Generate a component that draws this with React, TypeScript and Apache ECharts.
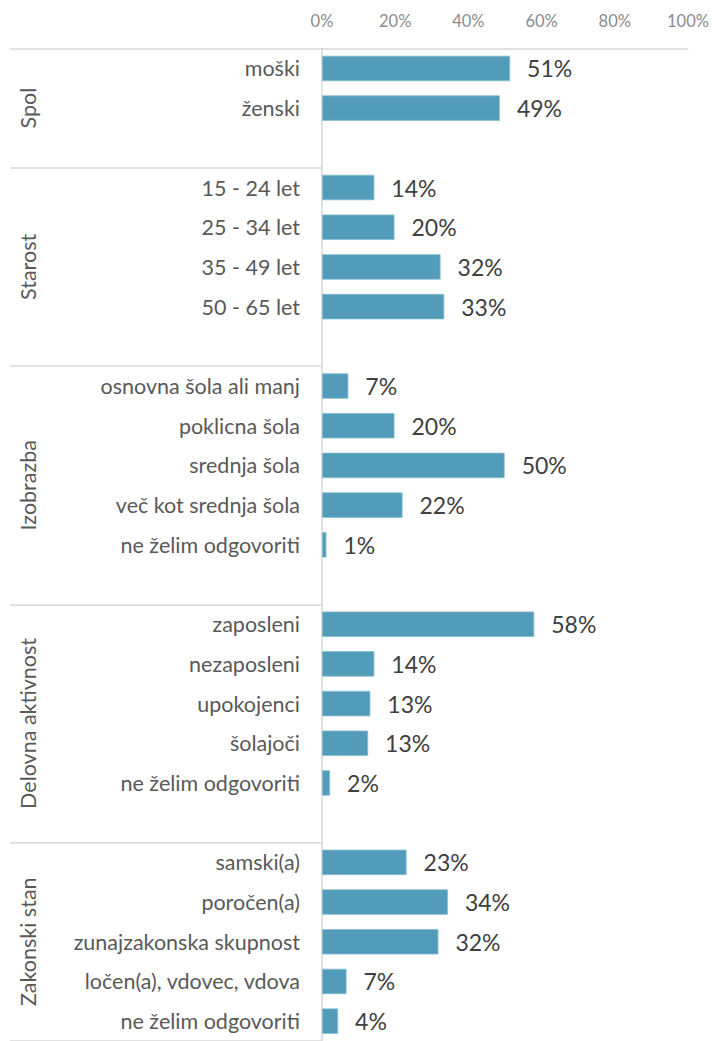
import React, { useEffect, useRef } from "react";
import * as echarts from "echarts";

const groupNames = ["Spol", "Starost", "Izobrazba", "Delovna aktivnost", "Zakonski stan"];

const spolCategories = ["moški", "ženski"];
const spolValues = [51.4, 48.6];

const starostCategories = ["15 - 24 let", "25 - 34 let", "35 - 49 let", "50 - 65 let"];
const starostValues = [14.3, 19.8, 32.4, 33.4];

const izobrazbaCategories = [
  "osnovna šola ali manj",
  "poklicna šola",
  "srednja šola",
  "več kot srednja šola",
  "ne želim odgovoriti",
];
const izobrazbaValues = [7.2, 19.8, 49.9, 22.0, 1.2];

const delovnaCategories = ["zaposleni", "nezaposleni", "upokojenci", "šolajoči", "ne želim odgovoriti"];
const delovnaValues = [58.0, 14.3, 13.2, 12.6, 2.2];

const zakonskiCategories = [
  "samski(a)",
  "poročen(a)",
  "zunajzakonska skupnost",
  "ločen(a), vdovec, vdova",
  "ne želim odgovoriti",
];
const zakonskiValues = [23.1, 34.4, 31.8, 6.7, 4.4];

const groupCategories = [spolCategories, starostCategories, izobrazbaCategories, delovnaCategories, zakonskiCategories];
const groupValues = [spolValues, starostValues, izobrazbaValues, delovnaValues, zakonskiValues];

const xMin = 0;
const xMax = 100;
const xInterval = 20;

const FONT = "Lato";

export default function App() {
  const ref = useRef<HTMLDivElement>(null);

  useEffect(() => {
    document.body.style.margin = "0";
    const chart = echarts.init(ref.current!, null, { renderer: "svg" });

    const categories: string[] = [];
    const values: (number | string)[] = [];
    const groupStart: number[] = [];
    const groupEnd: number[] = [];
    groupNames.forEach((_, gi) => {
      groupStart.push(categories.length);
      groupCategories[gi].forEach((c, ci) => {
        categories.push(c);
        values.push(groupValues[gi][ci]);
      });
      if (gi < groupNames.length - 1) {
        categories.push("");
        values.push("-");
      }
      groupEnd.push(categories.length - 1);
    });
    const boundaries = new Set(groupStart);

    chart.setOption({
      animation: false,
      grid: { left: 322, right: 28, top: 48.6, height: 996.4, containLabel: false },
      xAxis: {
        type: "value",
        position: "top",
        min: xMin,
        max: xMax,
        interval: xInterval,
        axisLine: { show: true, lineStyle: { color: "#d9d9d9", width: 1.5 } },
        axisTick: { show: false },
        splitLine: { show: false },
        axisLabel: {
          formatter: "{value}%",
          color: "#8c8c8c",
          fontSize: 16.5,
          fontFamily: FONT,
          margin: 19,
        },
      },
      yAxis: {
        type: "category",
        inverse: true,
        data: categories,
        axisLine: { show: true, lineStyle: { color: "#d9d9d9", width: 1.5 } },
        axisTick: {
          show: true,
          length: 312,
          interval: (index: number) => boundaries.has(index),
          lineStyle: { color: "#d9d9d9", width: 1.5 },
        },
        axisLabel: {
          interval: 0,
          margin: 22,
          color: "#595959",
          fontSize: 21.5,
          fontFamily: FONT,
        },
        splitLine: { show: false },
      },
      series: [
        {
          type: "bar",
          data: values,
          barWidth: "64%",
          itemStyle: { color: "#529cba", borderColor: "#86bcd1", borderWidth: 0.8 },
          label: {
            show: true,
            position: "right",
            distance: 17,
            formatter: (p: any) => Math.round(p.value) + "%",
            color: "#404040",
            fontSize: 23,
            fontFamily: FONT,
          },
        },
      ],
    });

    const graphics = groupNames.map((g, gi) => {
      const y0 = chart.convertToPixel({ yAxisIndex: 0 }, groupStart[gi]) as number;
      const y1 = chart.convertToPixel({ yAxisIndex: 0 }, groupEnd[gi]) as number;
      return {
        type: "text",
        x: 28,
        y: (y0 + y1) / 2,
        rotation: Math.PI / 2,
        style: {
          text: g,
          fill: "#595959",
          fontSize: 21.5,
          fontFamily: FONT,
          align: "center",
          verticalAlign: "middle",
        },
      };
    });
    chart.setOption({ graphic: graphics });

    return () => chart.dispose();
  }, []);

  return <div ref={ref} style={{ width: 716, height: 1041 }} />;
}
